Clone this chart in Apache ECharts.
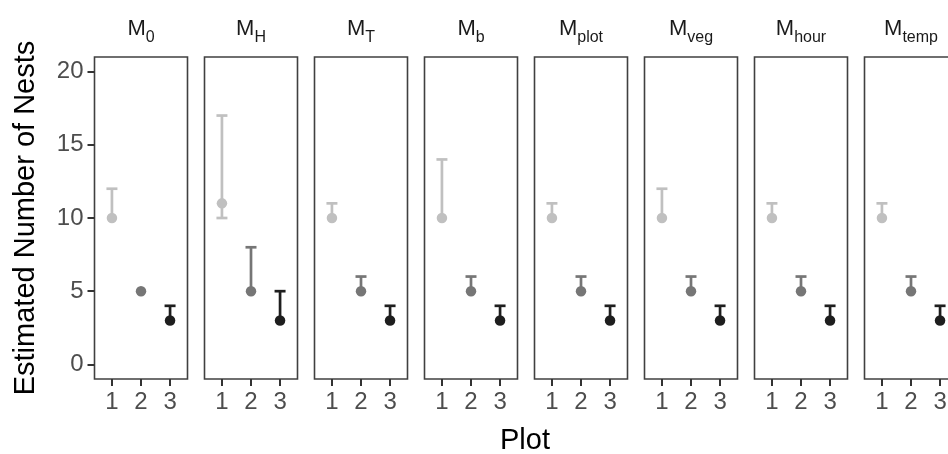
<!DOCTYPE html>
<html><head><meta charset="utf-8">
<script src="https://cdn.jsdelivr.net/npm/echarts@6/dist/echarts.min.js"></script>
<style>html,body{margin:0;padding:0;background:#fff}#c{width:948px;height:454px}</style>
</head><body><div id="c"></div>
<script>
// Facet labels: M with subscript
const modelSubs = ['0', 'H', 'T', 'b', 'plot', 'veg', 'hour', 'temp'];
const plots = [1, 2, 3];
const estimate = [
  [10, 5, 3], [11, 5, 3], [10, 5, 3], [10, 5, 3],
  [10, 5, 3], [10, 5, 3], [10, 5, 3], [10, 5, 3]
];
const lower = [
  [10, 5, 3], [10, 5, 3], [10, 5, 3], [10, 5, 3],
  [10, 5, 3], [10, 5, 3], [10, 5, 3], [10, 5, 3]
];
const upper = [
  [12, 5, 4], [17, 8, 5], [11, 6, 4], [14, 6, 4],
  [11, 6, 4], [12, 6, 4], [11, 6, 4], [11, 6, 4]
];
const yTicks = [0, 5, 10, 15, 20];
const xTicks = [1, 2, 3];
const plotColors = ['#c0c0c0', '#767676', '#1e1e1e'];

const FONT = 'Liberation Sans, Arial, sans-serif';
const panelLeft0 = 94.5, panelStep = 110, panelW = 93, panelTop = 57, panelH = 322;

const grids = [], xAxes = [], yAxes = [], series = [], graphics = [];
modelSubs.forEach((sub, i) => {
  const left = panelLeft0 + panelStep * i;
  grids.push({
    left: left, top: panelTop, width: panelW, height: panelH,
    outerBoundsMode: 'none', containLabel: false,
    show: true, borderColor: '#404040', borderWidth: 1.6, backgroundColor: '#fff'
  });
  xAxes.push({
    gridIndex: i, type: 'value', min: 0.4, max: 3.6,
    axisLine: { show: false, onZero: false }, splitLine: { show: false },
    axisTick: { show: true, customValues: xTicks, length: 7, lineStyle: { color: '#333', width: 2 } },
    axisLabel: { show: true, customValues: xTicks, margin: 11, fontSize: 24, color: '#4d4d4d', fontFamily: FONT }
  });
  yAxes.push({
    gridIndex: i, type: 'value', min: -1, max: 21,
    axisLine: { show: false, onZero: false }, splitLine: { show: false },
    axisTick: { show: i === 0, customValues: yTicks, length: 7, lineStyle: { color: '#333', width: 2 } },
    axisLabel: { show: i === 0, customValues: yTicks, margin: 11, fontSize: 24, color: '#4d4d4d', fontFamily: FONT },
    name: i === 0 ? 'Estimated Number of Nests' : '',
    nameLocation: 'middle', nameGap: 54,
    nameTextStyle: { fontSize: 29, color: '#000', fontFamily: FONT }
  });
  const errData = plots.map((p, k) => [p, lower[i][k], upper[i][k], k, estimate[i][k]]);
  const ptData = plots.map((p, k) => ({ value: [p, estimate[i][k]], itemStyle: { color: plotColors[k], opacity: 1 } }));
  series.push({
    type: 'custom', xAxisIndex: i, yAxisIndex: i, data: errData, z: 2,
    renderItem: (params, api) => {
      const x = api.value(0), lo = api.value(1), hi = api.value(2), c = plotColors[api.value(3)], est = api.value(4);
      const pLo = api.coord([x, lo]), pHi = api.coord([x, hi]);
      const hw = 5.5;
      const st = { stroke: c, lineWidth: 2.7 };
      const ch = [{ type: 'line', shape: { x1: pLo[0], y1: pLo[1], x2: pHi[0], y2: pHi[1] }, style: st }];
      if (hi !== est) ch.push({ type: 'line', shape: { x1: pHi[0] - hw, y1: pHi[1], x2: pHi[0] + hw, y2: pHi[1] }, style: st });
      if (lo !== est) ch.push({ type: 'line', shape: { x1: pLo[0] - hw, y1: pLo[1], x2: pLo[0] + hw, y2: pLo[1] }, style: st });
      return { type: 'group', children: ch };
    }
  });
  series.push({
    type: 'scatter', xAxisIndex: i, yAxisIndex: i, data: ptData, z: 3,
    symbol: 'circle', symbolSize: 10.5, silent: true, itemStyle: { opacity: 1 }
  });
  graphics.push({
    type: 'text', x: left + panelW / 2, y: 18,
    style: {
      text: '{m|M}{s|' + sub + '}', textAlign: 'center', fill: '#1a1a1a',
      rich: {
        m: { fontSize: 22, fontFamily: FONT, fill: '#1a1a1a', lineHeight: 25, verticalAlign: 'top' },
        s: { fontSize: 16, fontFamily: FONT, fill: '#1a1a1a', lineHeight: 16, padding: [12, 0, 0, 0], verticalAlign: 'top' }
      }
    }
  });
});
graphics.push({
  type: 'text', x: 525, y: 441,
  style: { text: 'Plot', textAlign: 'center', textVerticalAlign: 'middle', fontSize: 29, fontFamily: FONT, fill: '#000' }
});

const chart = echarts.init(document.getElementById('c'), null, { renderer: 'canvas' });
chart.setOption({
  animation: false,
  backgroundColor: '#fff',
  grid: grids, xAxis: xAxes, yAxis: yAxes, series: series,
  graphic: graphics
});
</script>
</body></html>
